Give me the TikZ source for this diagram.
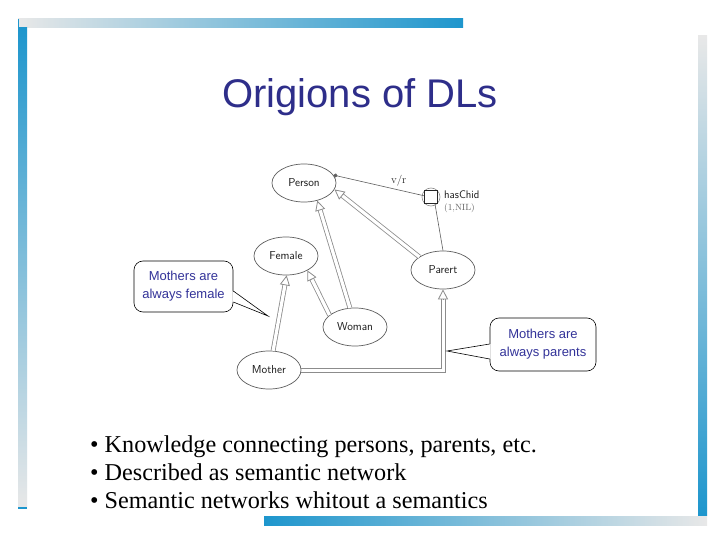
\documentclass[tikz,border=0pt]{standalone}
\usepackage{fontspec}
\newfontfamily\arialf{Liberation Sans}
\newfontfamily\timesf{Liberation Serif}
\usetikzlibrary{shapes.geometric,arrows.meta,calc}
\definecolor{barblue}{RGB}{30,150,205}
\definecolor{bargray}{RGB}{232,232,232}
\definecolor{titleblue}{RGB}{46,46,138}
\definecolor{callblue}{RGB}{51,51,153}
\definecolor{netgray}{RGB}{95,95,95}
\definecolor{isagray}{RGB}{140,140,140}
\begin{document}
\begin{tikzpicture}[x=1pt,y=-1pt,
  concept/.style={ellipse,draw=netgray,line width=0.7pt,minimum width=64pt,minimum height=38pt,inner sep=0pt,
    font=\sffamily\fontsize{11.5}{13}\selectfont,text=black!90},
  isashaft/.style={draw=isagray,line width=0.8pt,double=white,double distance=3.2pt},
  isa/.style={isashaft,-{Triangle[open,length=10pt,width=10pt]}},
  isaline/.style={draw=isagray,line width=0.8pt},
  isahead/.style={draw=isagray,line width=0.8pt,-{Triangle[open,length=10pt,width=10pt]}},
  callout/.style={draw=black,line width=0.6pt,rounded corners=9pt,fill=white,
    font=\arialf\fontsize{13}{18}\selectfont,text=callblue,align=center,inner sep=0pt},
  bulletline/.style={anchor=base west,font=\timesf\fontsize{24.2}{28}\selectfont,inner sep=0pt},
  netlabel/.style={font=\sffamily\fontsize{11}{13}\selectfont,text=black!90,inner sep=0pt}]
\useasboundingbox (0,0) rectangle (720,540);
\fill[white] (0,0) rectangle (720,540);
% frame bars
\shade[left color=bargray,right color=barblue] (18,19) rectangle (463,28);
\fill[barblue] (18,19) rectangle (19.2,28);
\shade[top color=barblue,bottom color=bargray] (18,28) rectangle (27,508);
\fill[barblue] (18,507.3) rectangle (27,508.5);
\shade[top color=bargray,bottom color=barblue] (698,36) rectangle (707,515);
\shade[left color=barblue,right color=bargray] (264,516) rectangle (707,525);
% title
\node[font=\arialf\fontsize{40}{48}\selectfont,text=titleblue,anchor=base,inner sep=0pt] (title) at (360,108) {Origions of DLs};
% bullets
\node[bulletline] (b1) at (90,452) {• Knowledge connecting persons, parents, etc.};
\node[bulletline] (b2) at (90,480) {• Described as semantic network};
\node[bulletline] (b3) at (90,508) {• Semantic networks whitout a semantics};
% network
\node[concept] (person) at (304,183) {Person};
\node[concept] (female) at (286,256) {Female};
\node[concept] (parent) at (443,270) {Parert};
\node[concept] (woman) at (355,327) {Woman};
\node[concept] (mother) at (269,370) {Mother};
\node[circle,draw=isagray,line width=0.6pt,minimum size=18pt,inner sep=0pt] (hcring) at (431,197) {};
\node[draw=black!85,line width=0.7pt,minimum size=13pt,inner sep=0pt] (hc) at (431,197) {};
\node[netlabel,anchor=west] (hclab) at (444,195) {hasChid};
\node[anchor=west,inner sep=0pt,font=\rmfamily\fontsize{9}{10}\selectfont,text=netgray] (hccard) at (444,208) {(1,NIL)};
\draw[netgray,line width=0.6pt,{Circle[length=4pt]}-] (person.15) -- node[pos=0.72,above=3pt,inner sep=0pt,font=\rmfamily\fontsize{11}{12}\selectfont,text=black!85] (vr) {v/r} (hc.170);
\draw[netgray,line width=0.6pt] (hc.-60) -- (parent.north);
\draw[isa] (mother.78) -- (female.-88);
\draw[isa] (woman.155) -- (female.-34);
\draw[isa] (woman.105) -- (person.-53);
\draw[isa] (parent.151) -- (person.-12);
% Mother -> Parent (drawn as two parallel lines)
\coordinate (mpcorner) at (mother.east -| parent.south);
\coordinate (mphead) at ($(parent.south)+(0,10)$);
\draw[isaline] ($(mother.east)+(0,2)$) -- ($(mpcorner)+(2,2)$) -- ($(mphead)+(2,0)$);
\draw[isaline] ($(mother.east)+(-0.3,-2)$) -- ($(mpcorner)+(-2,-2)$) -- ($(mphead)+(-2,0)$);
\draw[isahead] (mphead) -- (parent.south);
% callouts
\node[callout,minimum width=99pt,minimum height=51pt] (cf) at (183.5,286.5) {Mothers are\\always female};
\coordinate (cftip) at (268,316);
\fill[white] ($(cf.east)+(-1,4.5)$) -- (cftip) -- ($(cf.east)+(-1,15.5)$) -- cycle;
\draw[black,line width=0.6pt] ($(cf.east)+(0,4.5)$) -- (cftip) -- ($(cf.east)+(0,15.5)$);
\node[callout,minimum width=106pt,minimum height=53pt] (cp) at (543,344.5) {Mothers are\\always parents};
\coordinate (cptip) at (447,351);
\fill[white] ($(cp.west)+(1,-0.5)$) -- (cptip) -- ($(cp.west)+(1,14.5)$) -- cycle;
\draw[black,line width=0.6pt] ($(cp.west)+(0,-0.5)$) -- (cptip) -- ($(cp.west)+(0,14.5)$);
\end{tikzpicture}
\end{document}
